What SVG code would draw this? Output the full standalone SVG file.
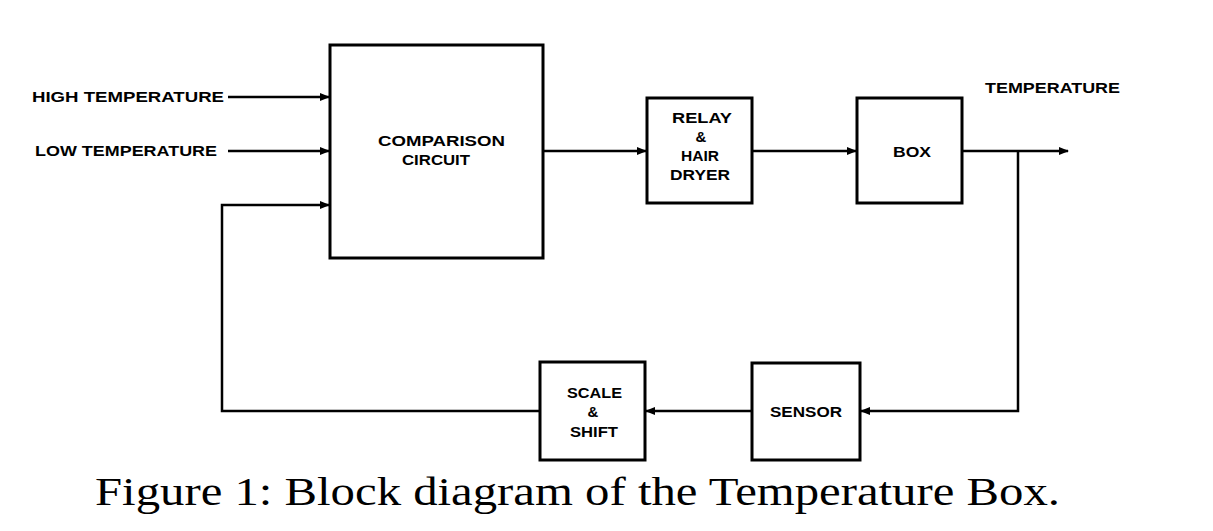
<svg xmlns="http://www.w3.org/2000/svg" width="1213" height="531" viewBox="0 0 1213 531">
<style>
.box{fill:#fff;stroke:#000;stroke-width:3}
.ln{fill:none;stroke:#000;stroke-width:2.5}
.lb{font-family:"Liberation Sans",Arial,sans-serif;font-weight:bold;font-size:15px;fill:#000}
.c{text-anchor:middle}
.cap{font-family:"Liberation Serif","Times New Roman",serif;font-size:40px;fill:#000}
</style>
<defs>
<marker id="ah" markerWidth="10" markerHeight="8" refX="9" refY="4" orient="auto" markerUnits="userSpaceOnUse">
<path d="M0,0 L10,4 L0,8 Z" fill="#000"/>
</marker>
</defs>
<rect width="1213" height="531" fill="#fff"/>
<g id="connectors">
<line class="ln" x1="228" y1="97" x2="329" y2="97" marker-end="url(#ah)"/>
<line class="ln" x1="228" y1="151" x2="329" y2="151" marker-end="url(#ah)"/>
<polyline class="ln" points="540,411 222,411 222,205 329,205" marker-end="url(#ah)"/>
<line class="ln" x1="543" y1="151" x2="646" y2="151" marker-end="url(#ah)"/>
<line class="ln" x1="752" y1="151" x2="856" y2="151" marker-end="url(#ah)"/>
<line class="ln" x1="962" y1="151" x2="1068" y2="151" marker-end="url(#ah)"/>
<polyline class="ln" points="1018,151 1018,411 861,411" marker-end="url(#ah)"/>
<line class="ln" x1="752" y1="411" x2="646" y2="411" marker-end="url(#ah)"/>
</g>
<g id="in-high"><text class="lb" x="32" y="102" textLength="192" lengthAdjust="spacingAndGlyphs">HIGH TEMPERATURE</text></g>
<g id="in-low"><text class="lb" x="35" y="156" textLength="182" lengthAdjust="spacingAndGlyphs">LOW TEMPERATURE</text></g>
<g id="comparison">
<rect class="box" x="330" y="45" width="213" height="213"/>
<text class="lb" x="378" y="146" textLength="127" lengthAdjust="spacingAndGlyphs">COMPARISON</text>
<text class="lb" x="402" y="165" textLength="68" lengthAdjust="spacingAndGlyphs">CIRCUIT</text>
</g>
<g id="relay">
<rect class="box" x="647" y="98" width="105" height="105"/>
<text class="lb" x="672" y="123" textLength="60" lengthAdjust="spacingAndGlyphs">RELAY</text>
<text class="lb c" x="701" y="142">&amp;</text>
<text class="lb" x="681" y="161" textLength="38" lengthAdjust="spacingAndGlyphs">HAIR</text>
<text class="lb" x="670" y="180" textLength="60" lengthAdjust="spacingAndGlyphs">DRYER</text>
</g>
<g id="box">
<rect class="box" x="857" y="98" width="105" height="105"/>
<text class="lb" x="893" y="157" textLength="38" lengthAdjust="spacingAndGlyphs">BOX</text>
</g>
<g id="out-temp"><text class="lb" x="985" y="93" textLength="135" lengthAdjust="spacingAndGlyphs">TEMPERATURE</text></g>
<g id="sensor">
<rect class="box" x="752" y="363" width="108" height="97"/>
<text class="lb" x="770" y="417" textLength="72" lengthAdjust="spacingAndGlyphs">SENSOR</text>
</g>
<g id="scale">
<rect class="box" x="540" y="362" width="105" height="98"/>
<text class="lb" x="567" y="398" textLength="55" lengthAdjust="spacingAndGlyphs">SCALE</text>
<text class="lb c" x="593" y="417">&amp;</text>
<text class="lb" x="570" y="437" textLength="48" lengthAdjust="spacingAndGlyphs">SHIFT</text>
</g>
<text class="cap" x="95" y="505" textLength="965" lengthAdjust="spacingAndGlyphs">Figure 1: Block diagram of the Temperature Box.</text>
</svg>
